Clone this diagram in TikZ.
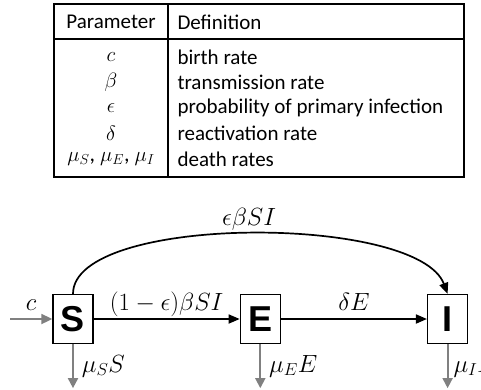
\documentclass[tikz,border=0pt]{standalone}
\usepackage{fontspec}
\usepackage{amsmath}
\usepackage{tikz}
\usetikzlibrary{arrows.meta,positioning,calc}
\setmainfont{Carlito}
\newfontfamily\boxfont{Liberation Sans}
\definecolor{flowgray}{RGB}{128,128,128}

\begin{document}
\begin{tikzpicture}[
    x=1pt, y=-1pt,
    font=\fontsize{21}{25}\selectfont,
    rule/.style={line width=1.2pt},
    sym/.style={font=\fontsize{24}{28}\selectfont},
    param/.style={inner sep=1pt, font=\fontsize{22}{26}\selectfont},
    compartment/.style={rectangle, draw, line width=1.3pt, minimum width=40pt, minimum height=49pt, inner sep=0pt, font=\fontsize{36}{40}\selectfont\boxfont\bfseries},
    flow/.style={-{Triangle[length=11pt,width=9pt]}, line width=1.7pt},
    inflow/.style={-{Triangle[length=11pt,width=10pt]}, line width=1.8pt, draw=flowgray},
    loss/.style={-{Triangle[length=10pt,width=10pt]}, line width=1.8pt, draw=flowgray},
    rate/.style={sym, above=3pt, inner sep=0pt, text depth=5pt},
    lossrate/.style={sym, right=8pt, inner sep=0pt}
]
    \useasboundingbox (0,0) rectangle (481,389);

    % parameter table
    \draw[rule] (54,4) rectangle (464,177);
    \draw[rule] (54,39) -- (464,39);
    \draw[rule] (168,4) -- (168,177);
    \node (hpar) at (111,22) {Parameter};
    \node[anchor=west] (hdef) at (174,22) {Definition};

    \node[param] (p1) at (111,57) {$c$};
    \node[param] (p2) at (111,82.5) {$\beta$};
    \node[param] (p3) at (111,108) {$\epsilon$};
    \node[param] (p4) at (111,133.5) {$\delta$};
    \node[param] (p5) at (111,159) {$\mu_S$, $\mu_E$, $\mu_I$};
    \node[anchor=west] (d1) at (174,57) {birth rate};
    \node[anchor=west] (d2) at (174,82.5) {transmission rate};
    \node[anchor=west] (d3) at (174,108) {probability of primary infection};
    \node[anchor=west] (d4) at (174,133.5) {reactivation rate};
    \node[anchor=west] (d5) at (174,159) {death rates};

    % compartments
    \node[compartment] (S) at (73,319) {S};
    \node[compartment, right=146pt of S] (E) {E};
    \node[compartment, right=146pt of E] (I) {I};

    \coordinate (cin) at (10,319);
    \coordinate[below=44pt of S] (Sout);
    \coordinate[below=44pt of E] (Eout);
    \coordinate[below=44pt of I] (Iout);

    % flows
    \draw[inflow] (cin) -- node[rate] (lc) {$c$} (S);
    \draw[flow] (S) -- node[rate] (lse) {$(1-\epsilon)\beta SI$} (E);
    \draw[flow] (E) -- node[rate] (lei) {$\delta E$} (I);
    \draw[flow] (S.north) .. controls +(0,-80) and +(-30,-80) .. node[rate] (lsi) {$\epsilon\beta SI$} (I.north);

    \draw[loss] (S) -- node[lossrate] (ls) {$\mu_S S$} (Sout);
    \draw[loss] (E) -- node[lossrate] (le) {$\mu_E E$} (Eout);
    \draw[loss] (I) -- node[lossrate, right=5pt] (li) {$\mu_I I$} (Iout);
\end{tikzpicture}
\end{document}
